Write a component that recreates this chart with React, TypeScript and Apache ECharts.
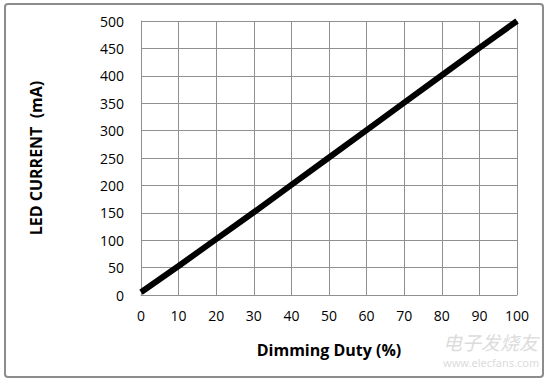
import React, { useEffect, useRef } from "react";
import * as echarts from "echarts";

const duty = [0, 10, 20, 30, 40, 50, 60, 70, 80, 90, 100];
const current = [5, 53, 102, 151, 201, 251, 301, 351, 401, 451, 500];

const FONT = "'Open Sans', 'Noto Sans', sans-serif";

export default function App() {
  const ref = useRef<HTMLDivElement>(null);
  useEffect(() => {
    document.body.style.margin = "0";
    const chart = echarts.init(ref.current!, null, { renderer: "svg" });
    chart.setOption({
      animation: false,
      backgroundColor: "#fff",
      grid: { left: 141, top: 21, right: 33, bottom: 86 },
      xAxis: {
        type: "value",
        min: 0,
        max: 100,
        interval: 10,
        name: "Dimming Duty (%)",
        nameLocation: "middle",
        nameGap: 47,
        nameTextStyle: { fontFamily: FONT, fontSize: 16, fontWeight: "bold", color: "#000" },
        axisLine: { show: true, lineStyle: { color: "#909090", width: 1 } },
        axisTick: { show: false },
        axisLabel: { fontFamily: FONT, fontSize: 14, color: "#000", margin: 13 },
        splitLine: { show: true, lineStyle: { color: "#909090", width: 1 } },
      },
      yAxis: {
        type: "value",
        min: 0,
        max: 500,
        interval: 50,
        name: "LED CURRENT  (mA)",
        nameLocation: "middle",
        nameGap: 97,
        nameTextStyle: { fontFamily: FONT, fontSize: 16, fontWeight: "bold", color: "#000" },
        axisLine: { show: true, lineStyle: { color: "#909090", width: 1 } },
        axisTick: { show: false },
        axisLabel: { fontFamily: FONT, fontSize: 14, color: "#000", margin: 17 },
        splitLine: { show: true, lineStyle: { color: "#909090", width: 1 } },
      },
      series: [
        {
          type: "line",
          data: duty.map((d, i) => [d, current[i]]),
          showSymbol: false,
          lineStyle: { color: "#000", width: 6 },
        },
      ],
      graphic: [
        {
          type: "rect",
          shape: { x: 5, y: 4, width: 538, height: 373, r: 3 },
          style: { fill: "none", stroke: "#8c8c8c", lineWidth: 2 },
          z: 100,
        },
        {
          type: "text",
          x: 443,
          y: 332,
          style: { text: "电子发烧友", font: "italic 19px 'Noto Sans CJK SC'", fill: "#dcdcdc" },
          z: 50,
        },
        {
          type: "text",
          x: 443,
          y: 357,
          style: { text: "www.elecfans.com", font: "11px 'Noto Sans'", fill: "#dcdcdc" },
          z: 50,
        },
      ],
    });
    return () => chart.dispose();
  }, []);
  return (
    <div
      ref={ref}
      style={{ position: "absolute", left: 0, top: 0, width: 550, height: 381 }}
    />
  );
}
